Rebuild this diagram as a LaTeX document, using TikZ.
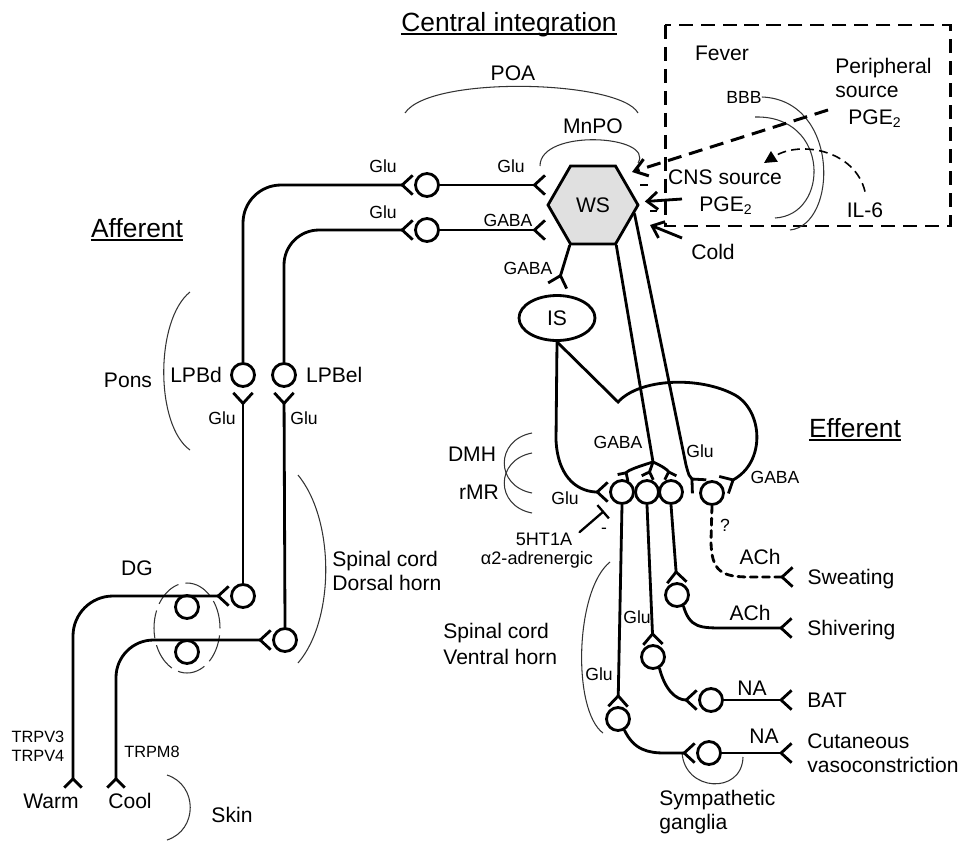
\documentclass[tikz,border=0pt]{standalone}
\usepackage{fontspec}
\setmainfont{Liberation Sans}
\usetikzlibrary{arrows.meta, shapes.geometric, positioning}

\begin{document}
\begin{tikzpicture}[
        x=0.02cm, y=-0.02cm,
        every node/.style = {inner sep=0pt},
        lbl/.style = {font=\fontsize{10}{12}\selectfont, text height=7.2pt, text depth=0pt},
        lblm/.style = {font=\fontsize{10.3}{12}\selectfont, text height=7.4pt, text depth=0pt},
        lbls/.style = {font=\fontsize{9.3}{11}\selectfont, text height=6.7pt, text depth=0pt},
        txt/.style = {font=\fontsize{12}{14}\selectfont, text height=8.6pt, text depth=0pt},
        twoline/.style = {font=\fontsize{12}{13.5}\selectfont, align=left, anchor=west},
        ttl/.style = {font=\fontsize{15}{18}\selectfont, anchor=base},
        cell/.style = {circle, draw, line width=1.6pt, minimum size=0.46cm},
        hexa/.style = {regular polygon, regular polygon sides=6, draw, line width=1.6pt,
            fill=black!12, minimum size=1.8cm},
        axon/.style = {line width=1.6pt, line cap=round},
        syn/.style = {axon, -{Straight Barb[reversed, length=6pt, width=11pt]}},
        synS/.style = {axon, -{Straight Barb[reversed, length=3.5pt, width=7pt]}},
        recep/.style = {axon, {Straight Barb[reversed, length=5pt, width=10pt]}-{Straight Barb[reversed, length=6pt, width=11pt]}},
        arr/.style = {line width=1.6pt, -{Straight Barb[length=6pt, width=10pt]}},
        region/.style = {line width=0.6pt, black!80},
        fevdash/.style = {line width=1.7pt, dash pattern=on 8pt off 4.5pt}
    ]
    \useasboundingbox (0,0) rectangle (959,842);

    % headings
    \node[ttl] (cent) at (509,31) {Central integration};
    \node[ttl] (aff) at (137,237) {Afferent};
    \node[ttl] (eff) at (855,437) {Efferent};
    \foreach \t in {cent,aff,eff}
        \draw[line width=0.8pt] ([yshift=-1.6pt]\t.base west) -- ([yshift=-1.6pt]\t.base east);

    % neurons
    \node[hexa, txt] (ws) at (593,205) {WS};
    \node[draw, ellipse, line width=1.6pt, minimum width=1.52cm, minimum height=0.9cm, txt] (is) at (557,318) {IS};
    \node[cell] (mnA) at (427,185) {};
    \node[cell] (mnB) at (427,230) {};
    \node[cell] (lpbd) at (243,375) {};
    \node[cell] (lpbel) at (284,375) {};
    \node[cell] (dhA) at (243,596) {};
    \node[cell] (dhB) at (285,640) {};
    \node[cell] (dgA) at (187,607) {};
    \node[cell] (dgB) at (187,652) {};
    \node[cell] (rmrA) at (622,492) {};
    \node[cell] (rmrB) at (647,492) {};
    \node[cell] (rmrC) at (671,492) {};
    \node[cell] (swt) at (712,493) {};
    \node[cell] (mot) at (677,595) {};
    \node[cell] (imlB) at (653,657) {};
    \node[cell] (iml) at (618,719) {};
    \node[cell] (sgB) at (711,700) {};
    \node[cell] (sgA) at (709,753) {};

    \coordinate (warm) at (73,789);
    \coordinate (cool) at (116,789);
    \coordinate (brA) at (653,462);
    \coordinate (inhT) at (604,511);
    \coordinate (sweat) at (794,577);
    \coordinate (shiver) at (793,628);
    \coordinate (bat) at (793,700);
    \coordinate (cut) at (793,753);
    \coordinate (perS) at (828,110);
    \coordinate (perT) at (632,172);
    \coordinate (cnsS) at (682,199);
    \coordinate (coldS) at (682,238);
    \coordinate (coldT) at (650,225);

    % fever box
    \draw[fevdash] (665,25) rectangle (950,226);
    \node[txt] (fever) at (722,53) {Fever};
    \node[twoline] (perL) at (835,78) {Peripheral\\source};
    \node[txt] (pgeP) at (875,117) {PGE\textsubscript{2}};
    \node[lbl] (bbb) at (744,97) {BBB};
    \node[txt] (cns) at (725,177) {CNS source};
    \node[txt] (pgeC) at (726,204) {PGE\textsubscript{2}};
    \node[txt] (il6) at (865,210) {IL-6};
    \node[txt] (cold) at (713,252) {Cold};
    \draw[region] (bbb.east) .. controls (840,100) and (838,225) .. (790,230);
    \draw[region] (755,117) .. controls (830,115) and (830,215) .. (775,218);
    \draw[fevdash, -{Straight Barb[length=7pt, width=10pt]}] (perS) -- (perT);
    \draw[line width=0.9pt, dash pattern=on 5pt off 3pt, -{Triangle[length=7pt, width=7pt]}]
        ([yshift=6pt]il6.north) .. controls (855,150) and (800,140) .. (764,163);
    \draw[arr, shorten >=4pt] (cnsS) -- (ws);
    \draw[arr] (coldS) -- (coldT);
    \draw[line width=1.5pt] (640,185) -- (648,185) (650,211) -- (657,211);

    % regions
    \node[txt] (poa) at (513,73) {POA};
    \node[txt] (mnpo) at (593,126) {MnPO};
    \draw[region] (405,113) .. controls (430,75) and (620,80) .. (638,113);
    \draw[region] (540,166) .. controls (540,128) and (655,135) .. (638,163);
    \node[txt] (pons) at (128,380) {Pons};
    \draw[region] (190,292) .. controls (155,320) and (155,425) .. (190,450);
    \node[txt, left=4.5pt of lpbd] (lpbdL) {LPBd};
    \node[txt, right=5pt of lpbel] (lpbelL) {LPBel};
    \node[twoline] (dorsal) at (332,571) {Spinal cord\\Dorsal horn};
    \draw[region] (298,475) .. controls (335,520) and (335,620) .. (298,663);
    \node[txt] (dg) at (137,568) {DG};
    \node[draw, ellipse, region, dash pattern=on 16pt off 4pt, minimum width=1.32cm, minimum height=1.8cm] (dgE) at (187,628) {};
    \node[lbls] (trpvA) at (38,737) {TRPV3};
    \node[lbls] (trpvB) at (38,756) {TRPV4};
    \node[lbls] (trpm) at (152,752) {TRPM8};
    \node[txt] (warmL) at (51,801) {Warm};
    \node[txt] (coolL) at (130,801) {Cool};
    \node[txt] (skin) at (232,815) {Skin};
    \draw[region] (167,775) .. controls (198,785) and (198,830) .. (167,840);
    \node[txt] (dmh) at (472,454) {DMH};
    \node[txt] (rmr) at (479,492) {rMR};
    \draw[region] (532,433) .. controls (495,440) and (495,486) .. (532,493);
    \draw[region] (532,453) .. controls (495,460) and (495,506) .. (532,513);
    \node[twoline] (ventral) at (443,644) {Spinal cord\\[1.5pt]Ventral horn};
    \draw[region] (610,562) .. controls (575,590) and (572,710) .. (603,733);
    \node[twoline] (symp) at (659,812) {Sympathetic\\ganglia};
    \draw[region] (682,752) .. controls (684,792) and (742,795) .. (743,757);

    % transmitters
    \node[lbl] (gluA) at (383,166) {Glu};
    \node[lbl] (gluB) at (383,212) {Glu};
    \node[lbl] (gluC) at (511,166) {Glu};
    \node[lbl] (gabaA) at (508,220) {GABA};
    \node[lbl] (gabaB) at (528,268) {GABA};
    \node[lbl] (gluD) at (222,418) {Glu};
    \node[lbl] (gluE) at (304,418) {Glu};
    \node[lbl] (gluF) at (565,498) {Glu};
    \node[lbl] (gabaC) at (618,442) {GABA};
    \node[lbl] (gluG) at (700,451) {Glu};
    \node[lbl] (gabaD) at (775,477) {GABA};
    \node[lbl] (gluH) at (637,617) {Glu};
    \node[lbl] (gluI) at (599,674) {Glu};
    \node[lbl] (qm) at (725,525) {?};
    \node[lbl] (minus) at (604,527) {-};
    \node[lblm] (ht) at (544,539) {5HT1A};
    \node[lblm] (alpha) at (537,558) {α2-adrenergic};
    \node[txt] (achA) at (760,557) {ACh};
    \node[txt] (achB) at (750,613) {ACh};
    \node[txt] (naA) at (752,688) {NA};
    \node[txt] (naB) at (764,736) {NA};
    \node[txt, right=7.5pt of sweat] (sweatL) {Sweating};
    \node[txt, right=8pt of shiver] (shiverL) {Shivering};
    \node[txt, right=8pt of bat] (batL) {BAT};
    \node[twoline, right=8pt of cut] (cutL) {Cutaneous\\vasoconstriction};

    % afferent pathway
    \draw[recep, rounded corners=0.8cm] (warm) |- (dhA.west);
    \draw[recep, rounded corners=0.75cm] (cool) |- (dhB.west);
    \draw[syn] (dhA.north) -- ([yshift=-2pt]lpbd.south);
    \draw[syn] (dhB.north) -- ([yshift=-2pt]lpbel.south);
    \draw[syn, rounded corners=0.76cm] (lpbd.north) |- (mnA.west);
    \draw[syn, rounded corners=0.7cm] (lpbel.north) |- (mnB.west);
    \draw[syn] (mnA.east) -- (mnA.east -| ws.west);
    \draw[syn] (mnB.east) -- (mnB.east -| ws.west);

    % central and efferent pathway
    \draw[syn] (ws.240) -- ([yshift=4pt]is.north);
    \draw[axon] (ws.300) -- (brA);
    \draw[synS] (brA) .. controls (640,466) and (628,470) .. (rmrA.north);
    \draw[synS] (brA) -- (rmrB.north);
    \draw[synS] (brA) .. controls (662,466) and (668,470) .. (rmrC.north);
    \draw[syn] (ws.-12) -- (686,465) .. controls (689,476) .. (swt.155);
    \draw[syn] (is.south) -- (556,440) .. controls (558,482) and (582,492) .. (rmrA.west);
    \draw[syn] (is.south) -- (618,402) .. controls (640,378) and (700,376) .. (735,395)
        .. controls (763,411) and (766,462) .. (swt.35);
    \draw[axon, line width=1.3pt, -{Bar[width=10pt]}] ([xshift=4pt]ht.north east) -- (inhT);
    \draw[syn] (rmrA.south) -- ([yshift=-1pt]iml.north);
    \draw[syn] (rmrB.south) -- ([yshift=-1pt]imlB.north);
    \draw[syn] (rmrC.south) -- ([yshift=-1pt]mot.north);
    \draw[syn, dash pattern=on 4pt off 3pt] (swt.south) -- (711,540) .. controls (711,572) and (722,577) .. (750,577) -- (sweat);
    \draw[syn] (mot.-60) .. controls (690,628) and (700,628) .. (725,628) -- (shiver);
    \draw[syn] (imlB.-60) .. controls (665,690) and (676,700) .. (sgB.west);
    \draw[syn] (sgB.east) -- (bat);
    \draw[syn] (iml.-60) .. controls (634,750) and (648,753) .. (665,753) -- (sgA.west);
    \draw[syn] (sgA.east) -- (cut);
\end{tikzpicture}
\end{document}
